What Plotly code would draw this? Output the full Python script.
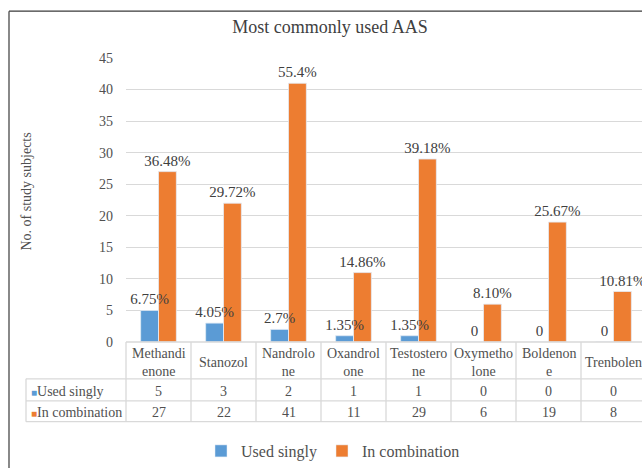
import plotly.graph_objects as go

categories = ["Methandi<br>enone", "Stanozol", "Nandrolo<br>ne", "Oxandrol<br>one",
              "Testostero<br>ne", "Oxymetho<br>lone", "Boldenon<br>e", "Trenbolen"]
used_singly = [5, 3, 2, 1, 1, 0, 0, 0]
in_combination = [27, 22, 41, 11, 29, 6, 19, 8]
singly_labels = ["6.75%", "4.05%", "2.7%", "1.35%", "1.35%", "0", "0", "0"]
combination_labels = ["36.48%", "29.72%", "55.4%", "14.86%", "39.18%", "8.10%", "25.67%", "10.81%"]
series_names = ["Used singly", "In combination"]
colors = ["#5B9BD5", "#ED7D31"]
y_ticks = [0, 5, 10, 15, 20, 25, 30, 35, 40, 45]

FONT = "Liberation Serif"
TXT = "#505050"
GRID = "#D9D9D9"

W, H = 642, 468
ML, MR, MT, MB = 126, 0, 58, 125
PW, PH = W - ML - MR, H - MT - MB

def py(px):  # pixel y -> paper y
    return (H - MB - px) / PH

def pxx(px):  # pixel x -> paper x
    return (px - ML) / PW

xs = list(range(len(categories)))
label_font = dict(size=15, color="#404040", family=FONT)

fig = go.Figure()
# bars
for vals, name, col, grp in [(used_singly, series_names[0], colors[0], "a"),
                             (in_combination, series_names[1], colors[1], "b")]:
    fig.add_trace(go.Bar(x=xs, y=vals, name=name, marker_color=col, offsetgroup=grp))
# labels drawn on top of all bars
for vals, labels, grp in [(used_singly, singly_labels, "a"),
                          (in_combination, combination_labels, "b")]:
    fig.add_trace(go.Bar(x=xs, y=vals, text=labels, textposition="outside", constraintext="none",
                         cliponaxis=False, textfont=label_font, offsetgroup=grp,
                         marker=dict(color="rgba(0,0,0,0)"), showlegend=False, hoverinfo="skip"))

shapes = []
annotations = []
# frame
shapes.append(dict(type="line", xref="paper", yref="paper", x0=pxx(9), x1=pxx(W + 5),
                   y0=py(11), y1=py(11), line=dict(color="#3A3A3A", width=1.2)))
shapes.append(dict(type="line", xref="paper", yref="paper", x0=pxx(9), x1=pxx(9),
                   y0=py(11), y1=py(H + 5), line=dict(color="#3A3A3A", width=1.2)))

# data table
row_lines = [380, 402, 423]
for r in row_lines:
    shapes.append(dict(type="line", xref="paper", yref="paper", x0=pxx(26), x1=1.02,
                       y0=py(r), y1=py(r), line=dict(color=GRID, width=1.3)))
shapes.append(dict(type="line", xref="paper", yref="paper", x0=0, x1=1.02,
                   y0=0, y1=0, line=dict(color=GRID, width=1.3)))
shapes.append(dict(type="line", xref="paper", yref="paper", x0=pxx(26), x1=pxx(26),
                   y0=py(380), y1=py(423), line=dict(color=GRID, width=1.3)))
shapes.append(dict(type="line", xref="paper", yref="paper", x0=0, x1=0,
                   y0=0, y1=py(423), line=dict(color=GRID, width=1.3)))
for i in xs[1:]:
    shapes.append(dict(type="line", xref="x", yref="paper", x0=i - 0.5, x1=i - 0.5,
                       y0=0, y1=py(423), line=dict(color=GRID, width=1.3)))

cell_font = dict(size=14, color=TXT, family=FONT)
for i, c in enumerate(categories):
    annotations.append(dict(x=i, y=py(364), xref="x", yref="paper", text=c, showarrow=False,
                            xanchor="center", yanchor="middle", font=cell_font, align="center"))
for i, v in enumerate(used_singly):
    annotations.append(dict(x=i, y=py(392.5), xref="x", yref="paper", text=str(v), showarrow=False,
                            xanchor="center", yanchor="middle", font=cell_font))
for i, v in enumerate(in_combination):
    annotations.append(dict(x=i, y=py(414), xref="x", yref="paper", text=str(v), showarrow=False,
                            xanchor="center", yanchor="middle", font=cell_font))
for name, col, yy in zip(series_names, colors, [392.5, 414]):
    annotations.append(dict(x=pxx(29), y=py(yy), xref="paper", yref="paper", xanchor="left",
                            yanchor="middle",
                            text=f'<span style="color:{col};font-size:10px">■</span>{name}',
                            showarrow=False, font=cell_font))

# y-axis title
annotations.append(dict(x=pxx(27), y=py(192), xref="paper", yref="paper", text="No. of study subjects",
                        textangle=-90, showarrow=False, xanchor="center", yanchor="middle",
                        font=dict(size=14, color=TXT, family=FONT)))

fig.update_layout(
    width=W, height=H,
    margin=dict(l=ML, r=MR, t=MT, b=MB, pad=0),
    paper_bgcolor="white", plot_bgcolor="white",
    title=dict(text="Most commonly used AAS", x=330 / W, y=1 - 27 / H, xref="container",
               yref="container", xanchor="center", yanchor="middle",
               font=dict(size=18, color="#404040", family=FONT)),
    barmode="group", bargap=0.45, bargroupgap=0,
    showlegend=True,
    legend=dict(orientation="h", x=pxx(333), y=py(452), xanchor="center", yanchor="middle",
                font=dict(size=16, color=TXT, family=FONT), itemwidth=30,
                bgcolor="rgba(0,0,0,0)"),
    shapes=shapes, annotations=annotations,
    font=dict(family=FONT, color=TXT),
)
fig.update_xaxes(range=[-0.5, len(categories) - 0.5 - 4 / 65], showticklabels=False,
                 showgrid=False, zeroline=False, showline=False, fixedrange=True)
fig.update_yaxes(range=[0, 45], tickvals=y_ticks, showgrid=True, gridcolor=GRID, gridwidth=1.3,
                 zeroline=False, showline=False, ticks="", ticklabelstandoff=12,
                 tickfont=dict(size=14, color=TXT, family=FONT))

fig.write_html("out.html", config={"displayModeBar": False},
               post_script="document.body.style.margin='0px';")
